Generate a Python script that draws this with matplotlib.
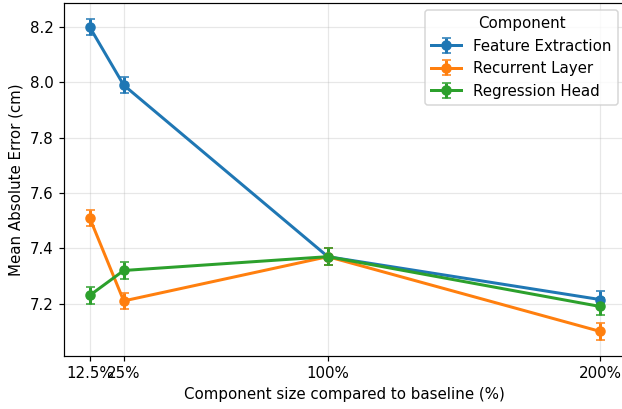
import matplotlib
matplotlib.use("Agg")
import matplotlib.pyplot as plt

sizes = [12.5, 25, 100, 200]
tick_labels = ["12.5%", "25%", "100%", "200%"]

feature_extraction = [8.20, 7.99, 7.37, 7.215]
recurrent_layer = [7.51, 7.21, 7.37, 7.10]
regression_head = [7.23, 7.32, 7.37, 7.19]

fe_err = [0.03, 0.03, 0.03, 0.03]
rl_err = [0.03, 0.03, 0.03, 0.03]
rh_err = [0.03, 0.03, 0.03, 0.03]

series = [
    ("Feature Extraction", feature_extraction, fe_err, "#1f77b4"),
    ("Recurrent Layer", recurrent_layer, rl_err, "#ff7f0e"),
    ("Regression Head", regression_head, rh_err, "#2ca02c"),
]

DPI = 108
fig = plt.figure(figsize=(622 / DPI, 409 / DPI), dpi=DPI)
# the reference is cropped on the right, so the axes runs past the edge
ax = fig.add_axes([64.2 / 622, 1 - 355.7 / 409, 561.3 / 622, 353.0 / 409])

for name, vals, err, color in series:
    ax.errorbar(sizes, vals, yerr=err, label=name, color=color,
                marker="o", markersize=6, linewidth=2, capsize=3)

ax.set_xticks(sizes)
ax.set_xticklabels(tick_labels)
ax.set_xlabel("Component size compared to baseline (%)")
ax.set_ylabel("Mean Absolute Error (cm)")
ax.grid(True, alpha=0.3)
ax.legend(title="Component", loc="upper right")

fig.savefig("out.png", dpi=DPI)
